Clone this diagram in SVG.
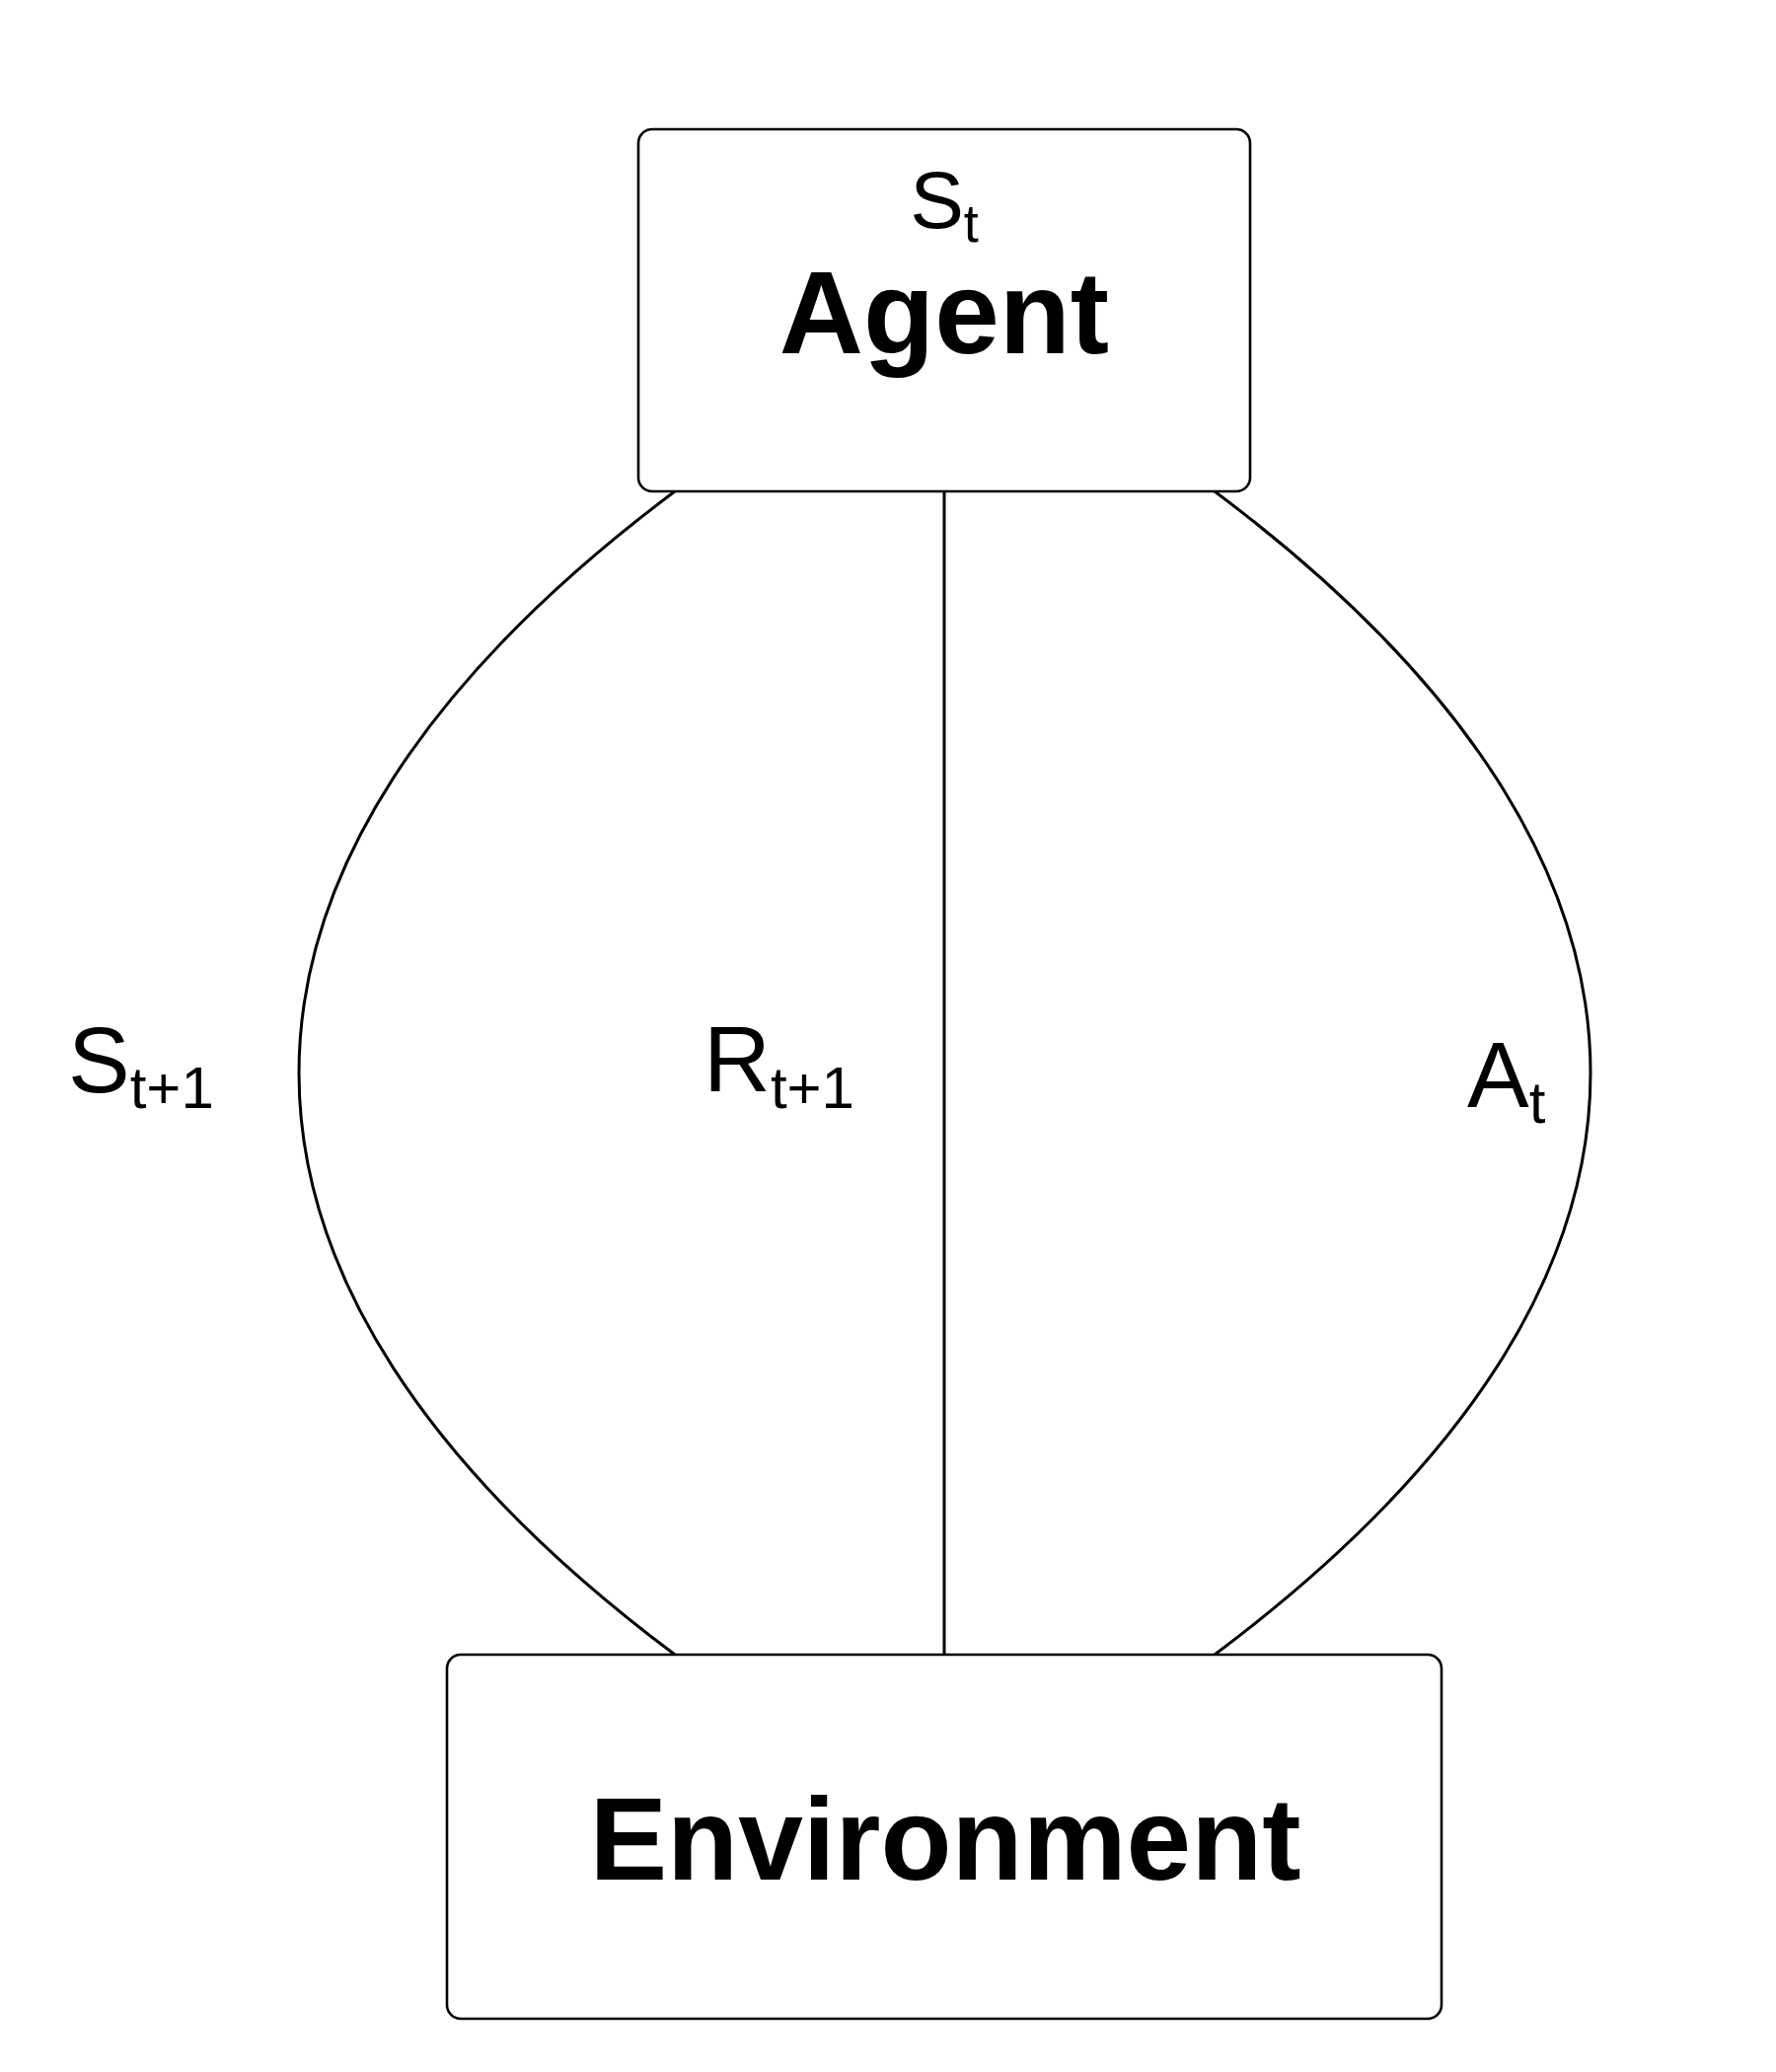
<svg xmlns="http://www.w3.org/2000/svg" width="1800" height="2100" viewBox="0 0 1800 2100">
<style>
.box{fill:#fff;stroke:#000;stroke-width:2.6}
.edge{fill:none;stroke:#000;stroke-width:3}
.t{font-family:"Liberation Sans",Arial,sans-serif;fill:#000}
.title{font-weight:bold;font-size:118px}
.lbl{font-size:94px}
.sub{font-size:60px}
</style>
<rect width="1800" height="2100" fill="#fff"/>
<g id="connectors">
<path class="edge" d="M684 498 C176 878 176 1297 684 1677"/>
<path class="edge" d="M957 498 L957 1677"/>
<path class="edge" d="M1231 498 C1739 878 1739 1297 1231 1677"/>
</g>
<g id="agent">
<rect class="box" x="647" y="131" width="620" height="367" rx="14"/>
<text class="t" x="957" y="231" text-anchor="middle" font-size="82">S<tspan font-size="54" dy="14">t</tspan></text>
<text class="t title" x="957" y="358" text-anchor="middle">Agent</text>
</g>
<g id="environment">
<rect class="box" x="453" y="1677" width="1008" height="369" rx="14"/>
<text class="t title" x="958" y="1905" text-anchor="middle">Environment</text>
</g>
<g id="labels">
<text class="t lbl" x="69" y="1107">S<tspan class="sub" dy="16">t+1</tspan></text>
<text class="t lbl" x="713" y="1106">R<tspan class="sub" dy="17">t+1</tspan></text>
<text class="t lbl" x="1487" y="1122">A<tspan class="sub" dy="16">t</tspan></text>
</g>
</svg>
